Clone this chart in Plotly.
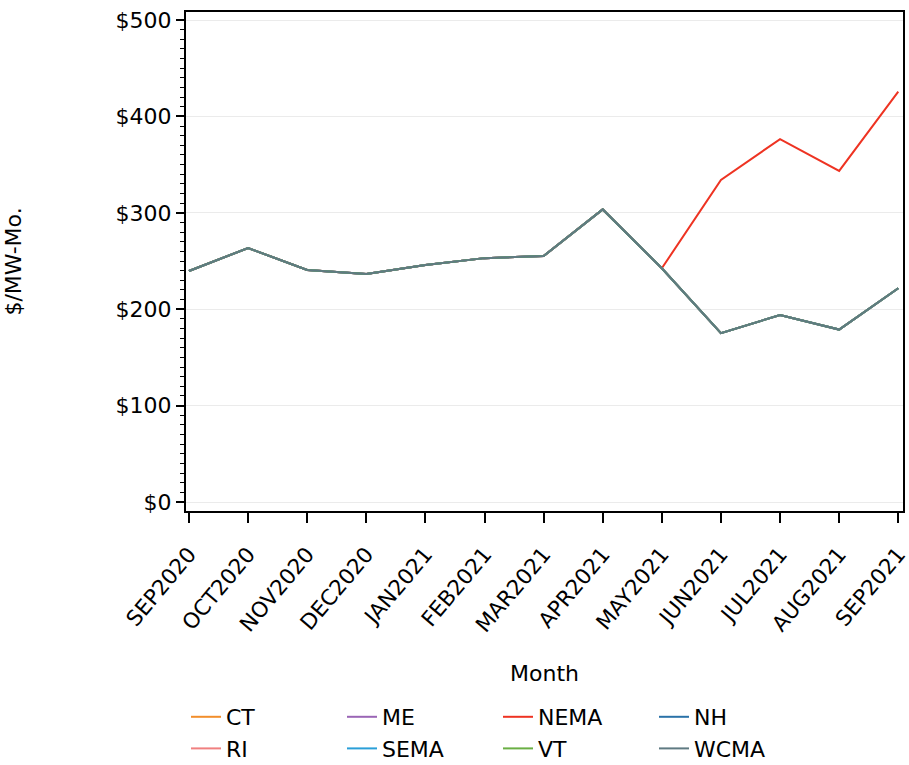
import plotly.graph_objects as go

months = ["SEP2020", "OCT2020", "NOV2020", "DEC2020", "JAN2021", "FEB2021", "MAR2021",
          "APR2021", "MAY2021", "JUN2021", "JUL2021", "AUG2021", "SEP2021"]

base = [239.6, 263.5, 240.7, 236.5, 245.9, 253.0, 255.2, 303.5, 242.5, 175.2, 194.0, 178.9, 221.8]
nema = [239.6, 263.5, 240.7, 236.5, 245.9, 253.0, 255.2, 303.5, 242.5, 334.0, 376.5, 343.4, 425.8]

ct = list(base)
me = list(base)
nh = list(base)
ri = list(base)
sema = list(base)
vt = list(base)
wcma = list(base)

series_names = ["CT", "ME", "NEMA", "NH", "RI", "SEMA", "VT", "WCMA"]
series_values = [ct, me, nema, nh, ri, sema, vt, wcma]
series_colors = ["#F28E2B", "#9A65B5", "#EE3322", "#2A72A8", "#F08080", "#2A9FD8", "#6AAF44", "#5F7A82"]

yticks = [0, 100, 200, 300, 400, 500]
ytick_labels = ["$0", "$100", "$200", "$300", "$400", "$500"]

fig = go.Figure()
for name, vals, col in zip(series_names, series_values, series_colors):
    fig.add_trace(go.Scatter(x=list(range(len(months))), y=vals, mode="lines", name=name,
                             line=dict(color=col, width=2)))

font_family = "DejaVu Sans"
fig.update_layout(
    width=909, height=765,
    paper_bgcolor="white", plot_bgcolor="white",
    margin=dict(l=186, r=6, t=12, b=254, autoexpand=False),
    font=dict(family=font_family, color="black", size=22),
    showlegend=True,
    legend=dict(orientation="h", x=0.0, xanchor="left",
                y=0.0902, yref="container", yanchor="top",
                font=dict(size=22), entrywidth=111, entrywidthmode="pixels",
                tracegroupgap=0, itemwidth=30),
    xaxis=dict(
        range=[-0.05, 12.08],
        tickmode="array", tickvals=list(range(len(months))), ticktext=months,
        tickangle=-50, ticks="outside", ticklen=10, tickwidth=2, tickcolor="black",
        ticklabelstandoff=10,
        showline=True, linecolor="black", linewidth=2, mirror=True,
        showgrid=False, zeroline=False, ticklabeloverflow="allow",
        tickfont=dict(size=21.5),
        title=dict(text="Month", font=dict(size=22), standoff=30),
    ),
    yaxis=dict(
        range=[-9.3, 508.3],
        tickmode="array", tickvals=yticks, ticktext=ytick_labels,
        ticks="outside", ticklen=8, tickwidth=2, tickcolor="black",
        minor=dict(dtick=10, ticks="outside", ticklen=4, tickwidth=1, tickcolor="black", showgrid=False),
        showline=True, linecolor="black", linewidth=2, mirror=True,
        showgrid=True, gridcolor="#EBEBEB", gridwidth=1, zeroline=False,
        ticklabeloverflow="allow",
        tickfont=dict(size=22),
        title=dict(text="$/MW-Mo.", font=dict(size=22), standoff=88),
    ),
)

fig.write_html("out.html", config={"displayModeBar": False},
               post_script="document.body.style.margin='0px';")
